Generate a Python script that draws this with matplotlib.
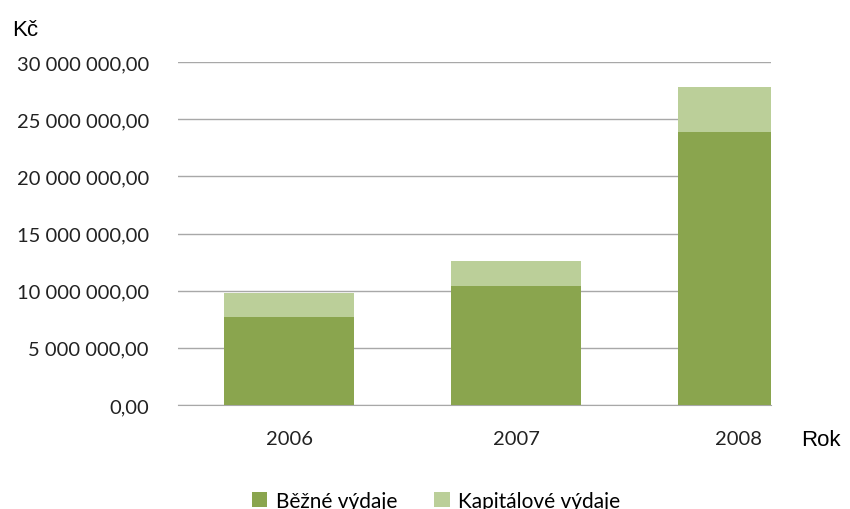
import matplotlib.pyplot as plt
import matplotlib.transforms as mtransforms
from matplotlib.ticker import FuncFormatter
import numpy as np

# data (Kč)
roky = ['2006', '2007', '2008']
bezne = [7.72e6, 10.44e6, 23.86e6]
kapitalove = [2.10e6, 2.16e6, 3.94e6]

c_dark = '#8aa54e'
c_light = '#bbcf99'
grid_c = '#a8a8a8'


def fmt_czk(v, pos):
    s = f"{v:,.2f}".replace(',', ' ').replace('.', ',')
    return s


fig = plt.figure(figsize=(8.5, 5.1), dpi=100)
ax = fig.add_axes([178 / 850, 104 / 510, 593 / 850, 343 / 510])

x = np.arange(len(roky))
w = 0.573
ax.bar(x, bezne, w, color=c_dark, label='Běžné výdaje', zorder=3)
ax.bar(x, kapitalove, w, bottom=bezne, color=c_light, label='Kapitálové výdaje', zorder=3)

ax.set_xlim(-0.489, 2.123)
ax.set_ylim(0, 30e6)
ax.set_yticks(np.arange(0, 30e6 + 1, 5e6))
ax.yaxis.set_major_formatter(FuncFormatter(fmt_czk))
ax.set_xticks(x)
ax.set_xticklabels(roky)

ax.grid(axis='y', color=grid_c, linewidth=1, zorder=0)
for s in ['top', 'right', 'left']:
    ax.spines[s].set_visible(False)
ax.spines['bottom'].set_color(grid_c)
ax.tick_params(axis='both', length=0, labelsize=14.5, colors='#222222')
ax.tick_params(axis='y', pad=21)
ax.tick_params(axis='x', pad=18)
for lab in ax.get_yticklabels() + ax.get_xticklabels():
    lab.set_family('Lato')
# posledni popisek je posunuty doleva (graf je oriznuty)
last = ax.get_xticklabels()[-1]
last.set_transform(last.get_transform() + mtransforms.ScaledTranslation(-0.05, 0, fig.dpi_scale_trans))

fig.text(12 / 850, 1 - 30 / 510, 'Kč', fontsize=16, family='Liberation Sans', va='center', ha='left')
fig.text(801 / 850, 1 - 440 / 510, 'Rok', fontsize=16, family='Liberation Sans', va='center', ha='left')

leg = fig.legend(loc='center', bbox_to_anchor=(436 / 850, 8 / 510), ncol=2, frameon=False,
                 prop={'family': 'Lato', 'size': 15}, handlelength=0.75, handleheight=0.75,
                 handletextpad=0.4, columnspacing=1.8)

fig.savefig('out.png', dpi=100)
